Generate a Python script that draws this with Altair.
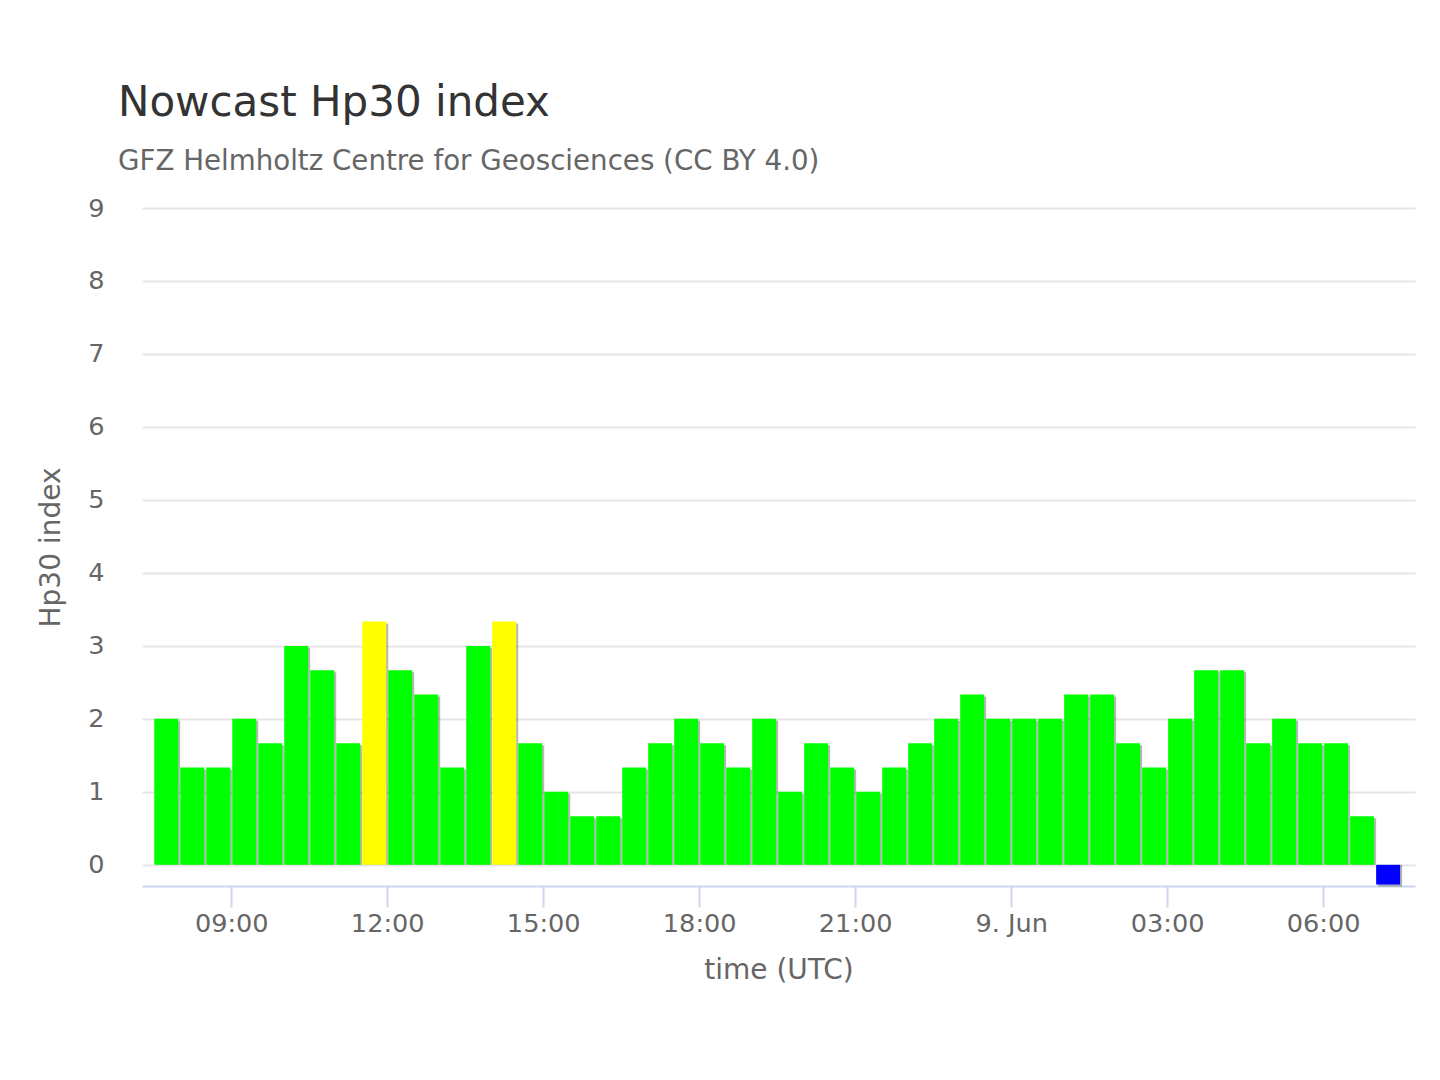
import pandas as pd
import altair as alt

# Hp30 nowcast, 30-minute intervals starting 8 Jun 07:30 UTC
first_slot = "2024-06-08T07:30:00Z"
hp30_values = [
    2.000, 1.333, 1.333, 2.000, 1.667, 3.000, 2.667, 1.667,
    3.333, 2.667, 2.333, 1.333, 3.000, 3.333, 1.667, 1.000,
    0.667, 0.667, 1.333, 1.667, 2.000, 1.667, 1.333, 2.000,
    1.000, 1.667, 1.333, 1.000, 1.333, 1.667, 2.000, 2.333,
    2.000, 2.000, 2.000, 2.333, 2.333, 1.667, 1.333, 2.000,
    2.667, 2.667, 1.667, 2.000, 1.667, 1.667, 0.667,
]
# the current (not yet available) interval is shown as a small blue marker
pending_marker = -0.27

level_names = ["quiet", "active", "pending"]
level_colors = ["#00ff00", "#ffff00", "#0000ff"]

FONT = "DejaVu Sans"

values = hp30_values + [pending_marker]
slots = pd.date_range(first_slot, periods=len(values), freq="30min")
df = pd.DataFrame({
    "mid": (slots + pd.Timedelta(minutes=15)).strftime("%Y-%m-%dT%H:%M:%SZ"),
    "hp30": values,
})
df["level"] = ["quiet" if v <= 3 else "active" for v in values]
df.loc[df.index[-1], "level"] = "pending"

x_enc = alt.X(
    "mid:T",
    scale=alt.Scale(
        type="utc",
        padding=0,
        domain=[
            alt.DateTime(year=2024, month=6, date=8, hours=7, minutes=17, utc=True),
            alt.DateTime(year=2024, month=6, date=9, hours=7, minutes=46, utc=True),
        ],
    ),
    axis=alt.Axis(
        values=[alt.DateTime(year=2024, month=6, date=8, hours=h, utc=True) for h in (9, 12, 15, 18, 21)]
        + [alt.DateTime(year=2024, month=6, date=9, hours=h, utc=True) for h in (0, 3, 6)],
        labelExpr="utcFormat(datum.value, '%H:%M') == '00:00' ? utcFormat(datum.value, '%-d. %b') : utcFormat(datum.value, '%H:%M')",
        grid=False,
        domainColor="#ccd6eb",
        domainWidth=2,
        tickColor="#ccd6eb",
        tickWidth=2,
        tickSize=21,
        labelPadding=4,
        labelFont=FONT,
        labelFontSize=25.6,
        labelColor="#666666",
        title="time (UTC)",
        titleFont=FONT,
        titleFontSize=28,
        titleFontWeight="normal",
        titleColor="#666666",
        titlePadding=20,
    ),
)

y_enc = alt.Y(
    "hp30:Q",
    scale=alt.Scale(domain=[-0.29, 9], nice=False, zero=False),
    axis=alt.Axis(
        values=list(range(10)),
        domain=False,
        ticks=False,
        tickSize=0,
        gridColor="#e6e6e6",
        gridWidth=2,
        labelPadding=38,
        labelFont=FONT,
        labelFontSize=25.6,
        labelColor="#666666",
        title="Hp30 index",
        titleFont=FONT,
        titleFontSize=28,
        titleFontWeight="normal",
        titleColor="#666666",
        titlePadding=22,
    ),
)

base = alt.Chart(df)

shadow = base.mark_bar(width=24, color="#000000", opacity=0.28, xOffset=2, yOffset=2).encode(
    x=x_enc, y=y_enc, y2=alt.datum(0)
)

bars = base.mark_bar(width=24).encode(
    x=x_enc,
    y=y_enc,
    y2=alt.datum(0),
    color=alt.Color("level:N", scale=alt.Scale(domain=level_names, range=level_colors), legend=None),
)

chart = (
    alt.layer(shadow, bars)
    .properties(
        width=1273,
        height=678,
        autosize=alt.AutoSizeParams(type="none"),
        padding={"left": 134, "top": 200, "right": 14, "bottom": 170},
        background="white",
        title=alt.TitleParams(
            text="Nowcast Hp30 index",
            subtitle="GFZ Helmholtz Centre for Geosciences (CC BY 4.0)",
            anchor="start",
            frame="group",
            dx=-24,
            font=FONT,
            fontSize=42,
            fontWeight="normal",
            color="#333333",
            subtitleFont=FONT,
            subtitleFontSize=27.7,
            subtitleColor="#666666",
            subtitlePadding=23,
            offset=19,
        ),
    )
    .configure_view(stroke=None)
)

chart.save("out.html", embed_options={"renderer": "svg", "actions": False})
